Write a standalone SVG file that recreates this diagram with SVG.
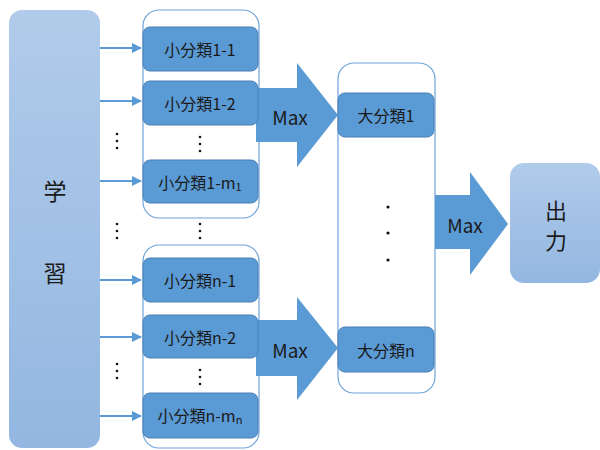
<svg xmlns="http://www.w3.org/2000/svg" width="600" height="450" viewBox="0 0 600 450">
<defs>
<linearGradient id="g" x1="0" y1="0" x2="0" y2="1">
<stop offset="0" stop-color="#b1cbea"/>
<stop offset="1" stop-color="#93b7e1"/>
</linearGradient>
<marker id="ah" viewBox="0 0 10 10" refX="9" refY="5" markerWidth="5" markerHeight="5" orient="auto" markerUnits="strokeWidth">
<path d="M0,0 L10,5 L0,10 z" fill="#5b9bd5"/>
</marker>
<style>
text{font-family:"Noto Sans CJK JP","Liberation Sans",sans-serif;fill:#1a1a1a;text-anchor:middle;dominant-baseline:central}
.sm{font-size:16px}
.big{font-size:23px}
.out{font-size:22px}
.mx{font-size:19px}
.box{fill:#5b9bd5;stroke:#4a7fb5;stroke-width:1}
.cont{fill:#fff;stroke:#6fa3da;stroke-width:1.2}
.grad{fill:url(#g)}
.con{stroke:#5b9bd5;stroke-width:2;fill:none;marker-end:url(#ah)}
.fat{fill:#5b9bd5}
.dot{fill:#111}
</style>
</defs>
<g id="learn">
<rect class="grad" x="9" y="10" width="91" height="438" rx="13"/>
<text class="big" x="55" y="190">学</text>
<text class="big" x="55" y="272">習</text>
</g>
<g id="group1">
<rect class="cont" x="143" y="10" width="116" height="208" rx="16"/>
</g>
<g id="group2">
<rect class="cont" x="143" y="245" width="116" height="203" rx="16"/>
</g>
<g id="groupBig">
<rect class="cont" x="338" y="63" width="97" height="330" rx="16"/>
</g>
<g id="connectors">
<line class="con" x1="100" y1="48" x2="141" y2="48"/>
<line class="con" x1="100" y1="101" x2="141" y2="101"/>
<line class="con" x1="100" y1="181" x2="141" y2="181"/>
<line class="con" x1="100" y1="280" x2="141" y2="280"/>
<line class="con" x1="100" y1="337" x2="141" y2="337"/>
<line class="con" x1="100" y1="416" x2="141" y2="416"/>
<path class="fat" d="M256,88 L297,88 L297,63 L338,115 L297,167 L297,142 L256,142 z"/>
<path class="fat" d="M256,320 L297,320 L297,297 L338,348 L297,400 L297,376 L256,376 z"/>
<path class="fat" d="M435,195 L470,195 L470,172 L508,224 L470,275 L470,249 L435,249 z"/>
<text class="mx" x="290" y="116">Max</text>
<text class="mx" x="290" y="349">Max</text>
<text class="mx" x="465" y="224">Max</text>
</g>
<g id="s1-1"><rect class="box" x="143" y="27" width="115" height="44" rx="7"/><text class="sm" x="200" y="49">小分類1-1</text></g>
<g id="s1-2"><rect class="box" x="143" y="81" width="115" height="44" rx="7"/><text class="sm" x="200" y="103">小分類1-2</text></g>
<g id="s1-m"><rect class="box" x="143" y="160" width="115" height="43" rx="7"/><text class="sm" x="200" y="182">小分類1-m<tspan font-size="11" dy="4">1</tspan></text></g>
<g id="sn-1"><rect class="box" x="143" y="258" width="115" height="44" rx="7"/><text class="sm" x="200" y="280">小分類n-1</text></g>
<g id="sn-2"><rect class="box" x="143" y="315" width="115" height="43" rx="7"/><text class="sm" x="200" y="337">小分類n-2</text></g>
<g id="sn-m"><rect class="box" x="143" y="393" width="115" height="45" rx="7"/><text class="sm" x="200" y="415">小分類n-m<tspan font-size="11" dy="4">n</tspan></text></g>
<g id="b1"><rect class="box" x="338" y="93" width="96" height="44" rx="7"/><text class="sm" x="386" y="115">大分類1</text></g>
<g id="bn"><rect class="box" x="338" y="327" width="96" height="45" rx="7"/><text class="sm" x="386" y="350">大分類n</text></g>
<g id="out">
<rect class="grad" x="510" y="163" width="90" height="120" rx="14"/>
<text class="out" x="556" y="209">出</text>
<text class="out" x="556" y="239">力</text>
</g>
<g id="dots">
<circle class="dot" cx="117" cy="134" r="1.3"/><circle class="dot" cx="117" cy="141" r="1.3"/><circle class="dot" cx="117" cy="148" r="1.3"/>
<circle class="dot" cx="200" cy="137" r="1.3"/><circle class="dot" cx="200" cy="144" r="1.3"/><circle class="dot" cx="200" cy="151" r="1.3"/>
<circle class="dot" cx="117" cy="224" r="1.3"/><circle class="dot" cx="117" cy="231" r="1.3"/><circle class="dot" cx="117" cy="238" r="1.3"/>
<circle class="dot" cx="200" cy="224" r="1.3"/><circle class="dot" cx="200" cy="231" r="1.3"/><circle class="dot" cx="200" cy="238" r="1.3"/>
<circle class="dot" cx="117" cy="364" r="1.3"/><circle class="dot" cx="117" cy="371" r="1.3"/><circle class="dot" cx="117" cy="378" r="1.3"/>
<circle class="dot" cx="200" cy="370" r="1.3"/><circle class="dot" cx="200" cy="377" r="1.3"/><circle class="dot" cx="200" cy="384" r="1.3"/>
<circle class="dot" cx="388" cy="207" r="1.6"/><circle class="dot" cx="388" cy="233" r="1.6"/><circle class="dot" cx="388" cy="260" r="1.6"/>
</g>
</svg>
